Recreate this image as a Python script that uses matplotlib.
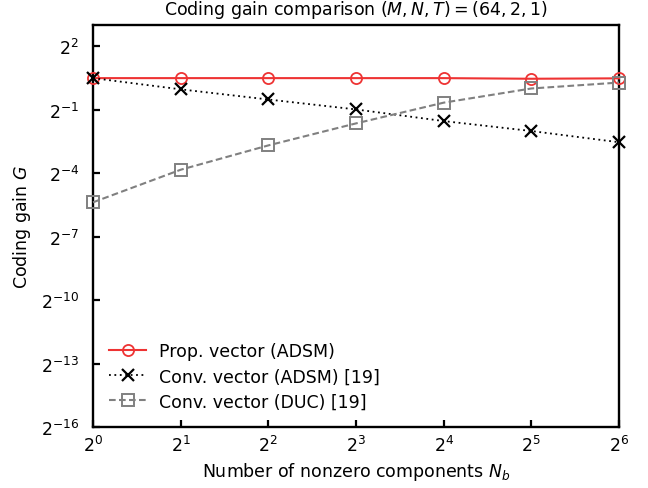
import numpy as np
import matplotlib
matplotlib.use('Agg')
import matplotlib.pyplot as plt
import matplotlib.ticker as plticker

# data (exponents of 2)
nb_exp = [0, 1, 2, 3, 4, 5, 6]
prop_adsm = [0.49, 0.49, 0.49, 0.49, 0.49, 0.46, 0.48]
conv_adsm = [0.49, -0.04, -0.52, -0.99, -1.54, -2.01, -2.54]
conv_duc = [-5.38, -3.84, -2.69, -1.65, -0.67, 0.0, 0.28]

x_ticks = [0, 1, 2, 3, 4, 5, 6]
y_ticks = [-16, -13, -10, -7, -4, -1, 2]

plt.rcParams['font.family'] = 'DejaVu Sans'
plt.rcParams['mathtext.fontset'] = 'dejavusans'
fs = 12.5

fig = plt.figure(figsize=(6.48, 4.89), dpi=100)
ax = fig.add_axes([0.1435, 0.1247, 0.8117, 0.8221])

x = 2.0 ** np.array(nb_exp)
ax.plot(x, 2.0 ** np.array(prop_adsm), color='#ee3333', lw=1.5, marker='o',
        ms=8, mfc='none', mec='#ee3333', mew=1.3, label='Prop. vector (ADSM)',
        clip_on=False, zorder=3)
ax.plot(x, 2.0 ** np.array(conv_adsm), color='black', lw=1.3, ls=(0, (1, 2)),
        marker='x', ms=8, mew=1.6, label='Conv. vector (ADSM) [19]',
        clip_on=False, zorder=3)
ax.plot(x, 2.0 ** np.array(conv_duc), color='#808080', lw=1.5, ls=(0, (3.2, 1.6)),
        marker='s', ms=8, mfc='none', mec='#808080', mew=1.4,
        label='Conv. vector (DUC) [19]', clip_on=False, zorder=3)

ax.set_xscale('log', base=2)
ax.set_yscale('log', base=2)
ax.set_xlim(1, 64)
ax.set_ylim(2.0 ** -16, 2.0 ** 3)

ax.xaxis.set_major_locator(plticker.FixedLocator([2.0 ** t for t in x_ticks]))
ax.xaxis.set_major_formatter(plticker.FixedFormatter(['$2^{%d}$' % t for t in x_ticks]))
ax.yaxis.set_major_locator(plticker.FixedLocator([2.0 ** t for t in y_ticks]))
ax.yaxis.set_major_formatter(plticker.FixedFormatter(['$2^{%d}$' % t for t in y_ticks]))
ax.xaxis.set_minor_locator(plticker.NullLocator())
ax.yaxis.set_minor_locator(plticker.NullLocator())

ax.tick_params(direction='in', length=5, width=1.6, labelsize=fs)
ax.tick_params(axis='y', pad=10)
ax.tick_params(axis='x', pad=6)
for s in ax.spines.values():
    s.set_linewidth(1.7)

ax.set_xlabel('Number of nonzero components $N_b$', fontsize=fs, labelpad=3)
ax.set_ylabel('Coding gain $G$', fontsize=fs, labelpad=6)
ax.set_title('Coding gain comparison $(M,N,T) = (64,2,1)$', fontsize=fs, pad=8)

ax.legend(loc='lower left', frameon=False, fontsize=fs, handlelength=2.1,
          borderaxespad=0.55, labelspacing=0.42, handletextpad=0.75)

fig.savefig('out.png', dpi=100)
